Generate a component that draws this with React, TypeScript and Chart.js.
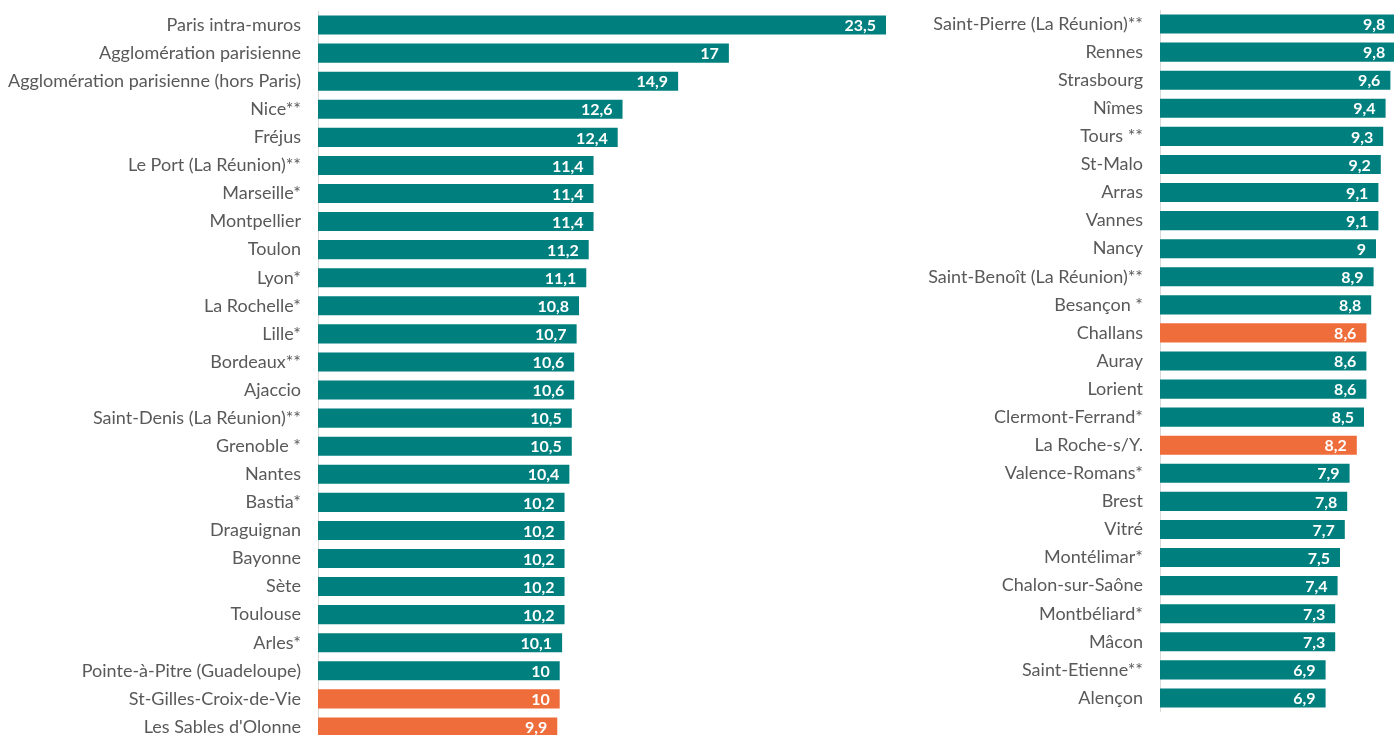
import React, { useEffect, useRef } from "react";
import { Chart, registerables } from "chart.js";

Chart.register(...registerables);

const leftCategories = [
  "Paris intra-muros",
  "Agglomération parisienne",
  "Agglomération parisienne (hors Paris)",
  "Nice**",
  "Fréjus",
  "Le Port (La Réunion)**",
  "Marseille*",
  "Montpellier",
  "Toulon",
  "Lyon*",
  "La Rochelle*",
  "Lille*",
  "Bordeaux**",
  "Ajaccio",
  "Saint-Denis (La Réunion)**",
  "Grenoble *",
  "Nantes",
  "Bastia*",
  "Draguignan",
  "Bayonne",
  "Sète",
  "Toulouse",
  "Arles*",
  "Pointe-à-Pitre (Guadeloupe)",
  "St-Gilles-Croix-de-Vie",
  "Les Sables d'Olonne",
];
const leftValues = [
  23.5, 17, 14.9, 12.6, 12.4, 11.4, 11.4, 11.4, 11.2, 11.1, 10.8, 10.7, 10.6, 10.6,
  10.5, 10.5, 10.4, 10.2, 10.2, 10.2, 10.2, 10.2, 10.1, 10, 10, 9.9,
];

const rightCategories = [
  "Saint-Pierre (La Réunion)**",
  "Rennes",
  "Strasbourg",
  "Nîmes",
  "Tours **",
  "St-Malo",
  "Arras",
  "Vannes",
  "Nancy",
  "Saint-Benoît (La Réunion)**",
  "Besançon *",
  "Challans",
  "Auray",
  "Lorient",
  "Clermont-Ferrand*",
  "La Roche-s/Y.",
  "Valence-Romans*",
  "Brest",
  "Vitré",
  "Montélimar*",
  "Chalon-sur-Saône",
  "Montbéliard*",
  "Mâcon",
  "Saint-Etienne**",
  "Alençon",
];
const rightValues = [
  9.8, 9.8, 9.6, 9.4, 9.3, 9.2, 9.1, 9.1, 9, 8.9, 8.8, 8.6, 8.6, 8.6, 8.5, 8.2, 7.9, 7.8,
  7.7, 7.5, 7.4, 7.3, 7.3, 6.9, 6.9,
];

const highlighted = ["St-Gilles-Croix-de-Vie", "Les Sables d'Olonne", "Challans", "La Roche-s/Y."];

const TEAL = "#007F7F";
const ORANGE = "#EE6D3A";
const TEXT = "#595959";
const FONT = "Lato, 'Open Sans', sans-serif";

const valueLabelPlugin = {
  id: "valueLabels",
  afterDatasetsDraw(chart: any) {
    const ctx = chart.ctx;
    const meta = chart.getDatasetMeta(0);
    const data = chart.data.datasets[0].data as number[];
    ctx.save();
    ctx.fillStyle = "#ffffff";
    ctx.font = `bold 16px ${FONT}`;
    ctx.textAlign = "right";
    ctx.textBaseline = "middle";
    meta.data.forEach((bar: any, i: number) => {
      const txt = String(data[i]).replace(".", ",");
      ctx.fillText(txt, bar.x - 10, bar.y + 1);
    });
    ctx.restore();
  },
};

function makeConfig(
  labels: string[],
  values: number[],
  yWidth: number,
  xMax: number,
  padTop: number
): any {
  return {
    type: "bar",
    data: {
      labels,
      datasets: [
        {
          data: values,
          backgroundColor: labels.map((l) => (highlighted.includes(l) ? ORANGE : TEAL)),
          borderWidth: 0,
          categoryPercentage: 1,
          barPercentage: 0.68,
        },
      ],
    },
    options: {
      indexAxis: "y",
      animation: false,
      responsive: false,
      maintainAspectRatio: false,
      layout: { padding: { top: padTop, bottom: 0, left: 0, right: 0 } },
      plugins: {
        legend: { display: false },
        tooltip: { enabled: false },
      },
      scales: {
        x: {
          display: false,
          min: 0,
          max: xMax,
        },
        y: {
          grid: { display: false, drawTicks: false },
          border: { display: true, color: "#D9D9D9", width: 1 },
          ticks: {
            color: TEXT,
            font: { family: FONT, size: 18 },
            padding: 17,
            autoSkip: false,
          },
          afterFit(scale: any) {
            scale.width = yWidth;
            scale.paddingTop = 0;
            scale.paddingBottom = 0;
          },
        },
      },
    },
    plugins: [valueLabelPlugin],
  };
}

function BarPanel(props: {
  labels: string[];
  values: number[];
  left: number;
  width: number;
  height: number;
  yWidth: number;
  xMax: number;
  padTop: number;
}) {
  const ref = useRef<HTMLCanvasElement | null>(null);
  useEffect(() => {
    if (!ref.current) return;
    const chart = new Chart(
      ref.current,
      makeConfig(props.labels, props.values, props.yWidth, props.xMax, props.padTop)
    );
    return () => chart.destroy();
  }, []);
  return (
    <canvas
      ref={ref}
      width={props.width}
      height={props.height}
      style={{
        position: "absolute",
        left: props.left,
        top: 0,
        width: props.width,
        height: props.height,
      }}
    />
  );
}

export default function App() {
  return (
    <div
      style={{
        position: "fixed",
        left: 0,
        top: 0,
        width: 1394,
        height: 735,
        overflow: "hidden",
        background: "#ffffff",
      }}
    >
      <BarPanel
        labels={leftCategories}
        values={leftValues}
        left={0}
        width={922}
        height={741}
        yWidth={318}
        xMax={604 / 24.17}
        padTop={11}
      />
      <BarPanel
        labels={rightCategories}
        values={rightValues}
        left={922}
        width={478}
        height={712}
        yWidth={238}
        xMax={10}
        padTop={10}
      />
    </div>
  );
}
